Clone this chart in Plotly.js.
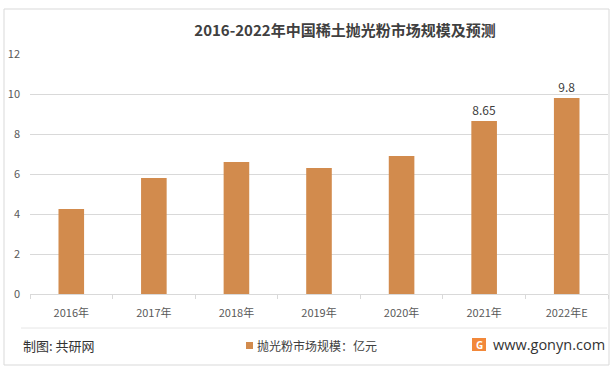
<!DOCTYPE html>
<html>
<head>
<meta charset="utf-8">
<script src="https://cdn.plot.ly/plotly-3.0.1.min.js"></script>
<style>
html,body{margin:0;padding:0;background:#fff;}
#chart{width:616px;height:372px;}
</style>
</head>
<body>
<div id="chart"></div>
<script>
// ---- data ----
var categories = ["2016年", "2017年", "2018年", "2019年", "2020年", "2021年", "2022年E"];
var marketSize = [4.25, 5.8, 6.6, 6.3, 6.9, 8.65, 9.8];
var valueLabels = ["", "", "", "", "", "8.65", "9.8"];
var seriesName = "抛光粉市场规模：亿元";
var titleText = "2016-2022年中国稀土抛光粉市场规模及预测";
var sourceText = "制图: 共研网";
var siteText = "www.gonyn.com";

// ---- layout geometry ----
var W = 616, H = 372;
var M = {l: 30, r: 8, t: 54, b: 78};
var PW = W - M.l - M.r, PH = H - M.t - M.b;
function px(x) { return (x - M.l) / PW; }
function py(y) { return (H - M.b - y) / PH; }

var font = "'Noto Sans CJK SC', 'Open Sans', sans-serif";
var barColor = "#D28B4D";
var gridColor = "#D9D9D9";

var trace = {
  type: "bar",
  x: categories,
  y: marketSize,
  name: seriesName,
  marker: {color: barColor},
  text: valueLabels,
  textposition: "outside",
  textfont: {family: font, size: 12, color: "#404040"},
  cliponaxis: false,
  showlegend: false,
  hoverinfo: "x+y"
};

var layout = {
  width: W, height: H,
  margin: M,
  paper_bgcolor: "#fff",
  plot_bgcolor: "#fff",
  bargap: 0.69,
  font: {family: font, color: "#595959"},
  showlegend: false,
  title: {
    text: "<b>" + titleText + "</b>",
    font: {family: font, size: 15, color: "#404040"},
    x: 345 / W, xanchor: "center", xref: "container",
    y: 1 - 31 / H, yanchor: "middle", yref: "container"
  },
  xaxis: {
    type: "category",
    showline: true, linecolor: gridColor, linewidth: 1,
    ticks: "outside", tickson: "boundaries", ticklen: 4, tickcolor: gridColor,
    tickfont: {family: font, size: 11, color: "#595959"},
    ticklabelstandoff: 9,
    showgrid: false
  },
  yaxis: {
    range: [0, 12], dtick: 2,
    showgrid: true, gridcolor: gridColor, gridwidth: 1,
    zeroline: false, showline: false,
    tickfont: {family: font, size: 11, color: "#595959"},
    ticklabelstandoff: 9
  },
  shapes: [
    {type: "rect", xref: "paper", yref: "paper",
     x0: px(4), x1: px(609), y0: py(365), y1: py(9),
     line: {color: "#D9D9D9", width: 1}, fillcolor: "rgba(0,0,0,0)", layer: "below"},
    {type: "line", xref: "paper", yref: "paper",
     x0: px(21), x1: px(607), y0: py(328), y1: py(328),
     line: {color: "#E6E6E6", width: 1}},
    // legend swatch
    {type: "rect", xref: "paper", yref: "paper",
     x0: px(246), x1: px(253), y0: py(349), y1: py(342),
     line: {width: 0}, fillcolor: barColor},
    // site logo
    {type: "rect", xref: "paper", yref: "paper",
     x0: px(472), x1: px(486), y0: py(351), y1: py(338),
     line: {width: 0}, fillcolor: "#F2883A"}
  ],
  annotations: [
    {text: seriesName, xref: "paper", yref: "paper", x: px(255), y: py(345),
     xanchor: "left", yanchor: "middle", showarrow: false,
     font: {family: font, size: 12, color: "#404040"}},
    {text: sourceText, xref: "paper", yref: "paper", x: px(21), y: py(345),
     xanchor: "left", yanchor: "middle", showarrow: false,
     font: {family: font, size: 13, color: "#333333"}},
    {text: siteText, xref: "paper", yref: "paper", x: px(607), y: py(344),
     xanchor: "right", yanchor: "middle", showarrow: false,
     font: {family: "'Open Sans', sans-serif", size: 14.5, color: "#333333"}},
    {text: "<b>G</b>", xref: "paper", yref: "paper", x: px(479), y: py(344.5),
     xanchor: "center", yanchor: "middle", showarrow: false,
     font: {family: "'Open Sans', sans-serif", size: 10, color: "#ffffff"}}
  ]
};

Plotly.newPlot("chart", [trace], layout, {displayModeBar: false, staticPlot: true});
</script>
</body>
</html>
